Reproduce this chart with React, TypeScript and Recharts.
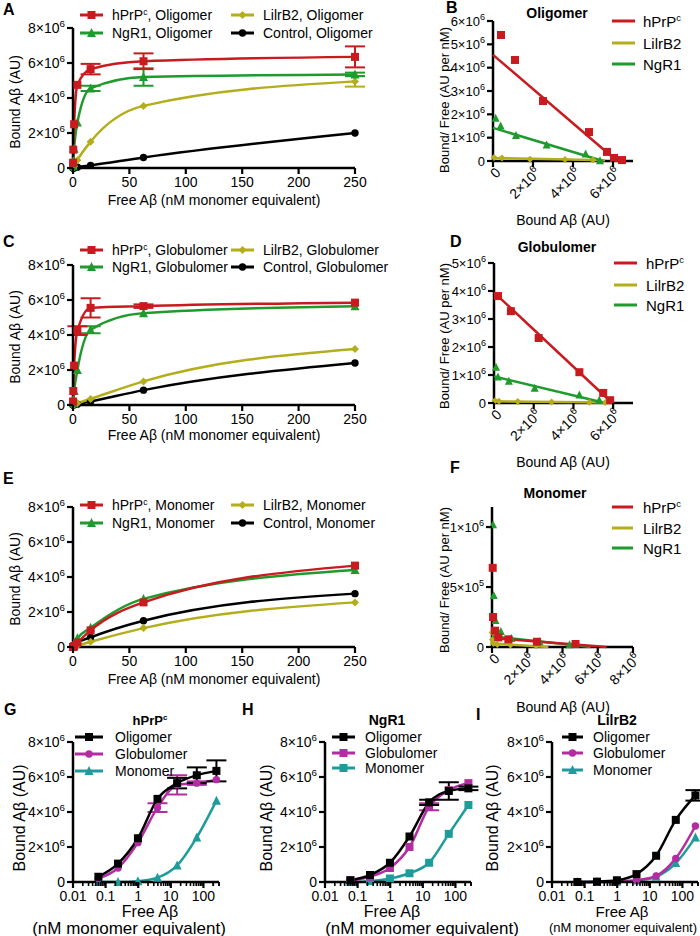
import React from "react";
import { LineChart, Line, XAxis, YAxis, ErrorBar, ScatterChart, Scatter } from "recharts";

const FONT = "Arial, 'Liberation Sans', Helvetica, sans-serif";
const M = 1e6;

// free Aβ concentrations (nM monomer equivalent)
const FREE = [0.06, 0.24, 0.98, 3.9, 15.6, 62.5, 250];

// bound Aβ (x10^6 AU) per receptor and Aβ form
const HPRP_OLIG = [0.3, 1.05, 2.5, 4.75, 5.65, 6.1, 6.35];
const HPRP_GLOB = [0.2, 0.8, 2.25, 4.25, 5.55, 5.65, 5.85];
const HPRP_MONO = [0, 0, 0.05, 0.25, 0.95, 2.55, 4.65];
const NGR1_OLIG = [0.1, 0.4, 1.1, 2.6, 4.55, 5.2, 5.35];
const NGR1_GLOB = [0.1, 0.3, 0.8, 2.0, 4.3, 5.25, 5.65];
const NGR1_MONO = [0, 0.05, 0.2, 0.5, 1.1, 2.75, 4.4];
const LILR_OLIG = [0, 0.02, 0.1, 0.45, 1.5, 3.55, 4.95];
const LILR_GLOB = [0, 0, 0.02, 0.1, 0.35, 1.35, 3.2];
const LILR_MONO = [0, 0, 0.02, 0.08, 0.3, 1.08, 2.55];
const CTRL_OLIG = [0, 0, 0, 0.05, 0.15, 0.6, 2.0];
const CTRL_GLOB = [0, 0, 0.02, 0.05, 0.2, 0.85, 2.4];
const CTRL_MONO = [0, 0.02, 0.1, 0.25, 0.55, 1.5, 3.05];

// error bars (x10^6)
const HPRP_OLIG_ERR = [0, 0, 0, 0, 0.3, 0.45, 0.6];
const HPRP_GLOB_ERR = [0, 0, 0, 0.25, 0.55, 0.1, 0];
const NGR1_OLIG_ERR = [0, 0, 0, 0, 0.15, 0.5, 0.1];
const NGR1_GLOB_ERR = [0, 0, 0, 0, 0.2, 0, 0];
const LILR_OLIG_ERR = [0, 0, 0, 0, 0, 0, 0.3];

// Scatchard points [bound x10^6, bound/free x10^6]
const SC_OLIG_HPRP = [[0.4, 5.4], [1.1, 4.33], [2.5, 2.57], [4.8, 1.24], [5.7, 0.39], [6.05, 0.13], [6.45, 0.04]];
const SC_OLIG_NGR1 = [[0.13, 1.83], [0.38, 1.5], [1.15, 1.09], [2.68, 0.69], [4.63, 0.3], [5.35, 0.01]];
const SC_OLIG_LILR = [[0.05, 0.15], [0.45, 0.13], [1.85, 0.08], [3.6, 0.06], [5.0, 0.04]];
const FIT_OLIG_HPRP = [[0, 4.55], [6.2, 0]];
const FIT_OLIG_NGR1 = [[0, 1.42], [5.5, 0]];
const FIT_OLIG_LILR = [[0, 0.13], [5.6, 0.03]];

const SC_GLOB_HPRP = [[0.2, 3.82], [0.85, 3.28], [2.25, 2.32], [4.3, 1.1], [5.5, 0.36], [5.85, 0.1]];
const SC_GLOB_NGR1 = [[0.1, 1.28], [0.2, 0.93], [0.75, 0.78], [2.05, 0.53], [4.3, 0.29], [5.3, 0.1]];
const SC_GLOB_LILR = [[0.05, 0.08], [0.25, 0.06], [1.2, 0.05], [2.9, 0.04], [4.8, 0.03], [5.6, 0.02]];
const FIT_GLOB_HPRP = [[0, 3.95], [5.95, 0]];
const FIT_GLOB_NGR1 = [[0, 0.95], [5.6, 0]];
const FIT_GLOB_LILR = [[0, 0.06], [5.8, 0.02]];

const SC_MONO_HPRP = [[0.04, 0.66], [0.06, 0.25], [0.17, 0.136], [0.36, 0.08], [0.93, 0.064], [2.55, 0.044], [4.74, 0.025]];
const SC_MONO_NGR1 = [[0.06, 1.02], [0.1, 0.43], [0.2, 0.22], [0.5, 0.13], [1.1, 0.07], [2.7, 0.043], [4.4, 0.018]];
const SC_MONO_LILR = [[0.01, 0.12], [0.02, 0.06], [0.08, 0.03], [0.3, 0.02], [1.05, 0.017], [2.5, 0.01]];
const FIT_MONO_HPRP = [[0, 0.075], [6.5, 0]];
const FIT_MONO_NGR1 = [[0, 0.09], [5.6, 0]];
const FIT_MONO_LILR = [[0, 0.03], [3.2, 0]];

// axis ticks
const LIN_X_TICKS = [0, 50, 100, 150, 200, 250];
const BOUND_TICKS = [0, 2e6, 4e6, 6e6, 8e6];
const SC_X_TICKS = [0, 2e6, 4e6, 6e6];
const SC_X_TICKS_F = [0, 2e6, 4e6, 6e6, 8e6];
const SC_Y_TICKS_B = [0, 1e6, 2e6, 3e6, 4e6, 5e6, 6e6];
const SC_Y_TICKS_D = [0, 1e6, 2e6, 3e6, 4e6, 5e6];
const SC_Y_TICKS_F = [0, 5e5, 1e6];
const LOG_MAJOR = [0.01, 0.1, 1, 10, 100];
const LOG_TICKS = LOG_MAJOR.flatMap((d) => [1, 2, 3, 4, 5, 6, 7, 8, 9].map((k) => d * k)).filter((v) => v <= 300).concat([200, 300]);

const RED = "#c81a1f";
const GREEN = "#1f9a2c";
const OLIVE = "#b4ad1c";
const BLACK = "#000000";
const MAGENTA = "#b42ca2";
const TEAL = "#1e9c9c";

const AXIS = { stroke: "#000", strokeWidth: 2.5 };

function sci(v: number) {
  if (v === 0) return { m: "0", e: "" };
  const e = Math.floor(Math.log10(v) + 1e-9);
  const m = Math.round(v / Math.pow(10, e));
  return { m: `${m}×10`, e: String(e) };
}

function Mark({ kind, x, y, color, s = 8 }: any) {
  if (x == null || y == null) return <g />;
  const h = s / 2;
  if (kind === "square") return <rect x={x - h} y={y - h} width={s} height={s} fill={color} />;
  if (kind === "triangle")
    return <polygon points={`${x},${y - h - 1} ${x + h + 0.5},${y + h} ${x - h - 0.5},${y + h}`} fill={color} />;
  if (kind === "diamond")
    return <polygon points={`${x},${y - h} ${x + h},${y} ${x},${y + h} ${x - h},${y}`} fill={color} />;
  return <circle cx={x} cy={y} r={h - 0.3} fill={color} />;
}

const dotFor = (kind: string, color: string, s = 8) => (p: any) =>
  <Mark key={`m${p.index}`} kind={kind} x={p.cx} y={p.cy} color={color} s={s} />;

const makeYTick = (fs: number) => (p: any) => {
  const { x, y, payload } = p;
  const s = sci(payload.value);
  return (
    <g>
      <line x1={x} x2={x - 6} y1={y} y2={y} stroke="#000" strokeWidth={2.2} />
      <text x={x - 8} y={y} dy={fs * 0.36} textAnchor="end" fontSize={fs} fill="#000" fontFamily={FONT}>
        {s.m}
        {s.e && <tspan dy={-fs * 0.43} fontSize={fs * 0.7}>{s.e}</tspan>}
      </text>
    </g>
  );
};
const SciYTick = makeYTick(14);
const SciYTickSmall = makeYTick(13);

const LinXTick = (p: any) => {
  const { x, y, payload } = p;
  return (
    <g>
      <line x1={x} x2={x} y1={y} y2={y + 6} stroke="#000" strokeWidth={2.2} />
      <text x={x} y={y + 8} dy={11} textAnchor="middle" fontSize={14} fill="#000" fontFamily={FONT}>
        {payload.value}
      </text>
    </g>
  );
};

const LogXTick = (p: any) => {
  const { x, y, payload } = p;
  const major = LOG_MAJOR.some((d) => Math.abs(d - payload.value) < d * 1e-6);
  return (
    <g>
      <line x1={x} x2={x} y1={y} y2={y + (major ? 6 : 4)} stroke="#000" strokeWidth={major ? 2.2 : 1.6} />
      {major && (
        <text x={x} y={y + 8} dy={11} textAnchor="middle" fontSize={14} fill="#000" fontFamily={FONT}>
          {payload.value}
        </text>
      )}
    </g>
  );
};

const SciRotTick = (p: any) => {
  const { x, y, payload } = p;
  const s = sci(payload.value);
  const ax = x + 5;
  const ay = y + 9;
  return (
    <g>
      <line x1={x} x2={x} y1={y} y2={y + 6} stroke="#000" strokeWidth={2.2} />
      <text x={ax} y={ay} dy={5} transform={`rotate(-45 ${ax} ${ay})`} textAnchor="end" fontSize={14} fill="#000" fontFamily={FONT}>
        {s.m}
        {s.e && <tspan dy={-6} fontSize={10}>{s.e}</tspan>}
      </text>
    </g>
  );
};

function T({ x, y, children, size = 14, bold = false, rotate = 0, anchor = "middle" }: any) {
  const tx = anchor === "middle" ? "-50%" : anchor === "end" ? "-100%" : "0";
  return (
    <div
      style={{
        position: "absolute",
        left: x,
        top: y,
        transform: `translate(${tx}, -50%)${rotate ? ` rotate(${rotate}deg)` : ""}`,
        whiteSpace: "nowrap",
        fontSize: size,
        fontWeight: bold ? 700 : 400,
        lineHeight: 1,
      }}
    >
      {children}
    </div>
  );
}

const Sup = ({ children }: any) => (
  <sup style={{ fontSize: "0.62em", lineHeight: 0, verticalAlign: "0.6em" }}>{children}</sup>
);

function Letter({ x, y, children }: any) {
  return (
    <div style={{ position: "absolute", left: x, top: y, fontSize: 16, fontWeight: 700, lineHeight: 1 }}>{children}</div>
  );
}

function LegendRow({ x1, x2, tx, y, color, kind, label, size = 14, mark = 8 }: any) {
  return (
    <>
      <svg style={{ position: "absolute", left: x1 - 2, top: y - 7 }} width={x2 - x1 + 4} height={14}>
        <line x1={2} x2={x2 - x1 + 2} y1={7} y2={7} stroke={color} strokeWidth={3} />
        <Mark kind={kind} x={(x2 - x1) / 2 + 2} y={7} color={color} s={mark} />
      </svg>
      <T x={tx} y={y} anchor="start" size={size}>{label}</T>
    </>
  );
}

function SatChart({ plotTop, series }: any) {
  const rows = FREE.map((x, i) => {
    const r: any = { x };
    series.forEach((s: any) => {
      r[s.key] = s.values[i] * M;
      if (s.err) r[s.key + "Err"] = s.err[i] * M;
    });
    return r;
  });
  return (
    <div style={{ position: "absolute", left: 11, top: plotTop - 10 }}>
      <LineChart width={356} height={174} data={rows} margin={{ top: 10, right: 12, bottom: 0, left: 0 }}>
        <XAxis type="number" dataKey="x" domain={[0, 250]} ticks={LIN_X_TICKS} interval={0} height={24}
          axisLine={AXIS} tickLine={false} tickSize={0} tickMargin={0} tick={LinXTick} />
        <YAxis type="number" domain={[0, 8e6]} ticks={BOUND_TICKS} interval={0} width={62}
          axisLine={AXIS} tickLine={false} tickSize={0} tickMargin={0} tick={SciYTick} />
        {series.map((s: any) => (
          <Line key={s.key} dataKey={s.key} type="monotone" stroke={s.color} strokeWidth={2.5}
            isAnimationActive={false} dot={dotFor(s.kind, s.color, 8)} activeDot={false}>
            {s.err && <ErrorBar dataKey={s.key + "Err"} width={10} strokeWidth={2} stroke={s.color} direction="y" />}
          </Line>
        ))}
      </LineChart>
    </div>
  );
}

function LogChart({ plotLeft, series, width = 220 }: any) {
  const rows = FREE.map((x, i) => {
    const r: any = { x };
    series.forEach((s: any) => {
      r[s.key] = s.values[i] * M;
      if (s.err) r[s.key + "Err"] = s.err[i] * M;
    });
    return r;
  });
  return (
    <div style={{ position: "absolute", left: plotLeft - 62, top: 732 }}>
      <LineChart width={width} height={174} data={rows} margin={{ top: 10, right: width - 62 - 146, bottom: 0, left: 0 }}>
        <XAxis type="number" dataKey="x" scale="log" domain={[0.01, 300]} ticks={LOG_TICKS} interval={0} height={24}
          axisLine={AXIS} tickLine={false} tickSize={0} tickMargin={0} tick={LogXTick} />
        <YAxis type="number" domain={[0, 8e6]} ticks={BOUND_TICKS} interval={0} width={62}
          axisLine={AXIS} tickLine={false} tickSize={0} tickMargin={0} tick={SciYTick} />
        {series.map((s: any) => (
          <Line key={s.key} dataKey={s.key} type="monotone" stroke={s.color} strokeWidth={2.5}
            isAnimationActive={false} dot={dotFor(s.kind, s.color, 8)} activeDot={false}>
            {s.err && <ErrorBar dataKey={s.key + "Err"} width={10} strokeWidth={2} stroke={s.color} direction="y" />}
          </Line>
        ))}
      </LineChart>
    </div>
  );
}

const toXY = (pts: number[][]) => pts.map(([x, y]) => ({ x: x * M, y: y * M }));

function ScatChart({ plotLeft, plotTop, plotW, xMax, xTicks, yMax, yTicks, sets }: any) {
  return (
    <div style={{ position: "absolute", left: plotLeft - 56, top: plotTop - 10 }}>
      <ScatterChart width={56 + plotW + 8} height={195} margin={{ top: 10, right: 8, bottom: 0, left: 0 }}>
        <XAxis type="number" dataKey="x" domain={[0, xMax]} ticks={xTicks} interval={0} height={45}
          axisLine={AXIS} tickLine={false} tickSize={0} tickMargin={0} tick={SciRotTick} />
        <YAxis type="number" dataKey="y" domain={[0, yMax]} ticks={yTicks} interval={0} width={56}
          axisLine={AXIS} tickLine={false} tickSize={0} tickMargin={0} tick={SciYTickSmall} />
        {sets.map((s: any) => (
          <Scatter key={s.name + "fit"} data={toXY(s.fit)} line={{ stroke: s.color, strokeWidth: 2.5 }}
            shape={() => <g />} isAnimationActive={false} />
        ))}
        {sets.map((s: any) => (
          <Scatter key={s.name + "pts"} data={toXY(s.pts)} isAnimationActive={false}
            shape={(p: any) => <Mark kind={s.kind} x={p.cx} y={p.cy} color={s.color} s={s.size} />} />
        ))}
      </ScatterChart>
    </div>
  );
}

function SatLegend({ y1, y2, form }: any) {
  return (
    <>
      <LegendRow x1={80} x2={103} tx={112} y={y1} color={RED} kind="square" label={<>hPrP<Sup>c</Sup>, {form}</>} />
      <LegendRow x1={80} x2={103} tx={112} y={y2} color={GREEN} kind="triangle" label={`NgR1, ${form}`} />
      <LegendRow x1={231} x2={254} tx={263} y={y1} color={OLIVE} kind="diamond" label={`LilrB2, ${form}`} />
      <LegendRow x1={231} x2={254} tx={263} y={y2} color={BLACK} kind="circle" label={`Control, ${form}`} />
    </>
  );
}

function ScLegend({ rows, x1, x2, tx }: any) {
  const items = [
    { color: RED, label: <>hPrP<Sup>c</Sup></> },
    { color: OLIVE, label: "LilrB2" },
    { color: GREEN, label: "NgR1" },
  ];
  return (
    <>
      {items.map((it, i) => (
        <React.Fragment key={i}>
          <svg style={{ position: "absolute", left: x1, top: rows[i] - 3 }} width={x2 - x1} height={6}>
            <line x1={0} x2={x2 - x1} y1={3} y2={3} stroke={it.color} strokeWidth={3} />
          </svg>
          <T x={tx} y={rows[i]} anchor="start" size={15}>{it.label}</T>
        </React.Fragment>
      ))}
    </>
  );
}

function LogLegend({ x1, x2, tx, rows, kinds }: any) {
  const names = ["Oligomer", "Globulomer", "Monomer"];
  const colors = [BLACK, MAGENTA, TEAL];
  return (
    <>
      {names.map((n, i) => (
        <LegendRow key={n} x1={x1} x2={x2} tx={tx} y={rows[i]} color={colors[i]} kind={kinds[i]} label={n} size={14} />
      ))}
    </>
  );
}

const satSeries = (form: string) => {
  const pick: any = {
    Oligomer: [HPRP_OLIG, NGR1_OLIG, LILR_OLIG, CTRL_OLIG, HPRP_OLIG_ERR, NGR1_OLIG_ERR, LILR_OLIG_ERR],
    Globulomer: [HPRP_GLOB, NGR1_GLOB, LILR_GLOB, CTRL_GLOB, HPRP_GLOB_ERR, NGR1_GLOB_ERR, null],
    Monomer: [HPRP_MONO, NGR1_MONO, LILR_MONO, CTRL_MONO, null, null, null],
  }[form];
  return [
    { key: "ctrl", color: BLACK, kind: "circle", values: pick[3] },
    { key: "lilr", color: OLIVE, kind: "diamond", values: pick[2], err: pick[6] },
    { key: "ngr1", color: GREEN, kind: "triangle", values: pick[1], err: pick[5] },
    { key: "hprp", color: RED, kind: "square", values: pick[0], err: pick[4] },
  ];
};

const logSeries = (olig: number[], glob: number[], mono: number[], oErr: any, gErr: any, kinds: string[]) => [
  { key: "mono", color: TEAL, kind: kinds[2], values: mono },
  { key: "glob", color: MAGENTA, kind: kinds[1], values: glob, err: gErr },
  { key: "olig", color: BLACK, kind: kinds[0], values: olig, err: oErr },
];

const scSets = (h: number[][], hf: number[][], n: number[][], nf: number[][], l: number[][], lf: number[][]) => [
  { name: "lilr", color: OLIVE, kind: "diamond", size: 7, pts: l, fit: lf },
  { name: "ngr1", color: GREEN, kind: "triangle", size: 7, pts: n, fit: nf },
  { name: "hprp", color: RED, kind: "square", size: 8, pts: h, fit: hf },
];

const BOUND_LABEL = <>Bound Aβ (AU)</>;
const RATIO_LABEL = "Bound/ Free (AU per nM)";

export default function App() {
  return (
    <div
      style={{
        position: "fixed",
        left: 0,
        top: 0,
        width: 700,
        height: 936,
        background: "#fff",
        overflow: "hidden",
        fontFamily: FONT,
        color: "#000",
      }}
    >
      {/* A / C / E: saturation binding */}
      <Letter x={3} y={2}>A</Letter>
      <SatChart plotTop={28} series={satSeries("Oligomer")} />
      <SatLegend y1={15} y2={33} form="Oligomer" />
      <T x={214} y={200}>Free Aβ (nM monomer equivalent)</T>
      <T x={15} y={102} rotate={-90}>{BOUND_LABEL}</T>

      <Letter x={3} y={234}>C</Letter>
      <SatChart plotTop={265} series={satSeries("Globulomer")} />
      <SatLegend y1={250} y2={267} form="Globulomer" />
      <T x={214} y={435}>Free Aβ (nM monomer equivalent)</T>
      <T x={15} y={337} rotate={-90}>{BOUND_LABEL}</T>

      <Letter x={3} y={471}>E</Letter>
      <SatChart plotTop={507} series={satSeries("Monomer")} />
      <SatLegend y1={505} y2={523} form="Monomer" />
      <T x={214} y={679}>Free Aβ (nM monomer equivalent)</T>
      <T x={15} y={579} rotate={-90}>{BOUND_LABEL}</T>

      {/* B / D / F: Scatchard */}
      <Letter x={446} y={0}>B</Letter>
      <T x={557} y={13} bold>Oligomer</T>
      <ScatChart plotLeft={493} plotTop={21} plotW={140} xMax={7e6} xTicks={SC_X_TICKS} yMax={6e6} yTicks={SC_Y_TICKS_B}
        sets={scSets(SC_OLIG_HPRP, FIT_OLIG_HPRP, SC_OLIG_NGR1, FIT_OLIG_NGR1, SC_OLIG_LILR, FIT_OLIG_LILR)} />
      <ScLegend rows={[21, 43, 64]} x1={612} x2={635} tx={643} />
      <T x={563} y={220}>{BOUND_LABEL}</T>
      <T x={444} y={100} rotate={-90} size={13}>{RATIO_LABEL}</T>

      <Letter x={450} y={234}>D</Letter>
      <T x={557} y={247} bold>Globulomer</T>
      <ScatChart plotLeft={494} plotTop={263} plotW={139} xMax={7e6} xTicks={SC_X_TICKS} yMax={5e6} yTicks={SC_Y_TICKS_D}
        sets={scSets(SC_GLOB_HPRP, FIT_GLOB_HPRP, SC_GLOB_NGR1, FIT_GLOB_NGR1, SC_GLOB_LILR, FIT_GLOB_LILR)} />
      <ScLegend rows={[263, 285, 305]} x1={614} x2={637} tx={646} />
      <T x={563} y={462}>{BOUND_LABEL}</T>
      <T x={444} y={336} rotate={-90} size={13}>{RATIO_LABEL}</T>

      <Letter x={450} y={460}>F</Letter>
      <T x={555} y={493} bold>Monomer</T>
      <ScatChart plotLeft={492} plotTop={507} plotW={141} xMax={8e6} xTicks={SC_X_TICKS_F} yMax={1.167e6} yTicks={SC_Y_TICKS_F}
        sets={scSets(SC_MONO_HPRP, FIT_MONO_HPRP, SC_MONO_NGR1, FIT_MONO_NGR1, SC_MONO_LILR, FIT_MONO_LILR)} />
      <ScLegend rows={[507, 528, 548]} x1={612} x2={633} tx={643} />
      <T x={563} y={707}>{BOUND_LABEL}</T>
      <T x={444} y={580} rotate={-90} size={13}>{RATIO_LABEL}</T>

      {/* G / H / I: log-scale comparison by receptor */}
      <Letter x={4} y={702}>G</Letter>
      <T x={150} y={720} bold size={13}>hPrP<Sup>c</Sup></T>
      <LogChart plotLeft={73}
        series={logSeries(HPRP_OLIG, HPRP_GLOB, HPRP_MONO, HPRP_OLIG_ERR, HPRP_GLOB_ERR, ["square", "circle", "triangle"])} />
      <LogLegend x1={75} x2={103} tx={115} rows={[737, 754, 771]} kinds={["square", "circle", "triangle"]} />
      <T x={150} y={912} size={16}>Free Aβ</T>
      <T x={129} y={928} size={17}>(nM monomer equivalent)</T>
      <T x={20} y={818} rotate={-90} size={16}>{BOUND_LABEL}</T>

      <Letter x={242} y={702}>H</Letter>
      <T x={387} y={720} bold size={14}>NgR1</T>
      <LogChart plotLeft={325}
        series={logSeries(NGR1_OLIG, NGR1_GLOB, NGR1_MONO, NGR1_OLIG_ERR, NGR1_GLOB_ERR, ["square", "square", "square"])} />
      <LogLegend x1={332} x2={355} tx={365} rows={[737, 753, 768]} kinds={["square", "square", "square"]} />
      <T x={392} y={912} size={16}>Free Aβ</T>
      <T x={422} y={928} size={17}>(nM monomer equivalent)</T>
      <T x={267} y={818} rotate={-90} size={16}>{BOUND_LABEL}</T>

      <Letter x={476} y={707}>I</Letter>
      <T x={617} y={720} bold size={14}>LilrB2</T>
      <LogChart plotLeft={552} width={212}
        series={logSeries(LILR_OLIG, LILR_GLOB, LILR_MONO, LILR_OLIG_ERR, null, ["square", "circle", "triangle"])} />
      <LogLegend x1={562} x2={583} tx={593} rows={[737, 753, 770]} kinds={["square", "circle", "triangle"]} />
      <T x={622} y={911} size={15}>Free Aβ</T>
      <T x={623} y={927} size={13}>(nM monomer equivalent)</T>
      <T x={493} y={818} rotate={-90} size={16}>{BOUND_LABEL}</T>
    </div>
  );
}
